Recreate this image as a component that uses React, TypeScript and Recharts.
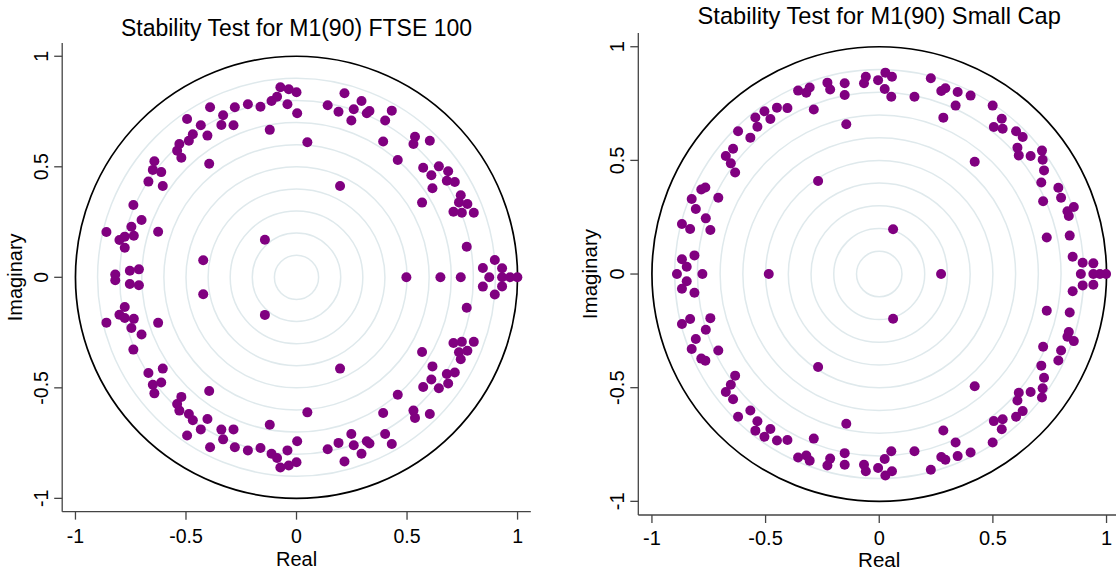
import { ReferenceDot, Scatter, ScatterChart, XAxis, YAxis } from 'recharts'

type Root = [number, number]

// FTSE 100: roots above the real axis
const ftseUpper: Root[] = [
  [-0.073, 0.86], [-0.035, 0.851], [0.0, 0.837], [-0.088, 0.817], [-0.113, 0.798],
  [-0.041, 0.783], [0.003, 0.742], [-0.121, 0.667], [-0.163, 0.772], [-0.22, 0.783],
  [-0.279, 0.769], [-0.391, 0.769], [-0.332, 0.733], [-0.34, 0.689], [-0.285, 0.688],
  [-0.495, 0.716], [-0.433, 0.688], [-0.469, 0.647], [-0.403, 0.641], [-0.487, 0.618],
  [-0.53, 0.603], [-0.54, 0.573], [-0.521, 0.541], [-0.395, 0.514], [-0.643, 0.525],
  [-0.65, 0.486], [-0.612, 0.476], [-0.67, 0.433], [-0.605, 0.413], [-0.738, 0.327],
  [-0.701, 0.259], [-0.747, 0.229], [-0.86, 0.205], [-0.626, 0.206], [-0.777, 0.184],
  [-0.736, 0.188], [-0.801, 0.169], [-0.777, 0.134], [-0.143, 0.17], [-0.422, 0.077],
  [-0.754, 0.03], [-0.713, 0.036], [-0.82, 0.013],
  [0.217, 0.833], [0.141, 0.778], [0.19, 0.749], [0.294, 0.798], [0.259, 0.76],
  [0.248, 0.709], [0.33, 0.752], [0.318, 0.742], [0.431, 0.754], [0.401, 0.709],
  [0.049, 0.611], [0.392, 0.614], [0.536, 0.636], [0.529, 0.603], [0.603, 0.618],
  [0.458, 0.531], [0.573, 0.496], [0.644, 0.502], [0.61, 0.462], [0.686, 0.48],
  [0.68, 0.437], [0.716, 0.431], [0.615, 0.403], [0.197, 0.413], [0.568, 0.338],
  [0.743, 0.371], [0.735, 0.339], [0.773, 0.332], [0.71, 0.297], [0.748, 0.292],
  [0.802, 0.292], [0.77, 0.138], [0.897, 0.078], [0.843, 0.042], [0.93, 0.041],
]

// FTSE 100: conjugates below the real axis
const ftseLower: Root[] = [
  [-0.073, -0.86], [-0.035, -0.851], [0.0, -0.837], [-0.088, -0.817], [-0.113, -0.798],
  [-0.041, -0.783], [0.003, -0.742], [-0.121, -0.667], [-0.163, -0.772], [-0.22, -0.783],
  [-0.279, -0.769], [-0.391, -0.769], [-0.332, -0.733], [-0.34, -0.689], [-0.285, -0.688],
  [-0.495, -0.716], [-0.433, -0.688], [-0.469, -0.647], [-0.403, -0.641], [-0.487, -0.618],
  [-0.53, -0.603], [-0.54, -0.573], [-0.521, -0.541], [-0.395, -0.514], [-0.643, -0.525],
  [-0.65, -0.486], [-0.612, -0.476], [-0.67, -0.433], [-0.605, -0.413], [-0.738, -0.327],
  [-0.701, -0.259], [-0.747, -0.229], [-0.86, -0.205], [-0.626, -0.206], [-0.777, -0.184],
  [-0.736, -0.188], [-0.801, -0.169], [-0.777, -0.134], [-0.143, -0.17], [-0.422, -0.077],
  [-0.754, -0.03], [-0.713, -0.036], [-0.82, -0.013],
  [0.217, -0.833], [0.141, -0.778], [0.19, -0.749], [0.294, -0.798], [0.259, -0.76],
  [0.248, -0.709], [0.33, -0.752], [0.318, -0.742], [0.431, -0.754], [0.401, -0.709],
  [0.049, -0.611], [0.392, -0.614], [0.536, -0.636], [0.529, -0.603], [0.603, -0.618],
  [0.458, -0.531], [0.573, -0.496], [0.644, -0.502], [0.61, -0.462], [0.686, -0.48],
  [0.68, -0.437], [0.716, -0.431], [0.615, -0.403], [0.197, -0.413], [0.568, -0.338],
  [0.743, -0.371], [0.735, -0.339], [0.773, -0.332], [0.71, -0.297], [0.748, -0.292],
  [0.802, -0.292], [0.77, -0.138], [0.897, -0.078], [0.843, -0.042], [0.93, -0.041],
]

const ftseRealAxis: Root[] = [
  [0.497, 0], [0.651, 0], [0.743, 0], [0.872, 0], [0.93, 0], [0.966, 0], [0.999, 0],
]

// Small Cap: roots above the real axis
const smallCapUpper: Root[] = [
  [-0.059, 0.868], [-0.067, 0.839], [-0.005, 0.853], [-0.152, 0.839], [-0.152, 0.788],
  [-0.228, 0.842], [-0.216, 0.812], [-0.306, 0.821], [-0.357, 0.807], [-0.321, 0.798],
  [-0.288, 0.724], [-0.404, 0.73], [-0.45, 0.732], [-0.505, 0.716], [-0.479, 0.682],
  [-0.545, 0.689], [-0.536, 0.648], [-0.621, 0.628], [-0.567, 0.6], [-0.145, 0.659],
  [-0.643, 0.551], [-0.675, 0.519], [-0.653, 0.487], [-0.634, 0.447], [-0.269, 0.409],
  [-0.783, 0.372], [-0.765, 0.381], [-0.825, 0.33], [-0.708, 0.336], [-0.807, 0.286],
  [-0.763, 0.245], [-0.868, 0.22], [-0.832, 0.198], [-0.743, 0.194], [-0.813, 0.082],
  [-0.868, 0.065], [-0.847, 0.032],
  [0.027, 0.886], [0.056, 0.868], [0.024, 0.814], [0.053, 0.78], [0.227, 0.861],
  [0.155, 0.78], [0.273, 0.805], [0.291, 0.817], [0.345, 0.801], [0.402, 0.785],
  [0.336, 0.741], [0.282, 0.688], [0.499, 0.741], [0.539, 0.683], [0.504, 0.647],
  [0.543, 0.639], [0.602, 0.628], [0.631, 0.603], [0.608, 0.556], [0.614, 0.522],
  [0.666, 0.519], [0.716, 0.543], [0.719, 0.503], [0.725, 0.456], [0.42, 0.494],
  [0.713, 0.403], [0.721, 0.32], [0.788, 0.38], [0.8, 0.336], [0.856, 0.295],
  [0.828, 0.276], [0.834, 0.255], [0.838, 0.169], [0.737, 0.161], [0.061, 0.197],
  [0.851, 0.076], [0.895, 0.05], [0.942, 0.047],
]

// Small Cap: conjugates below the real axis
const smallCapLower: Root[] = [
  [-0.059, -0.868], [-0.067, -0.839], [-0.005, -0.853], [-0.152, -0.839], [-0.152, -0.788],
  [-0.228, -0.842], [-0.216, -0.812], [-0.306, -0.821], [-0.357, -0.807], [-0.321, -0.798],
  [-0.288, -0.724], [-0.404, -0.73], [-0.45, -0.732], [-0.505, -0.716], [-0.479, -0.682],
  [-0.545, -0.689], [-0.536, -0.648], [-0.621, -0.628], [-0.567, -0.6], [-0.145, -0.659],
  [-0.643, -0.551], [-0.675, -0.519], [-0.653, -0.487], [-0.634, -0.447], [-0.269, -0.409],
  [-0.783, -0.372], [-0.765, -0.381], [-0.825, -0.33], [-0.708, -0.336], [-0.807, -0.286],
  [-0.763, -0.245], [-0.868, -0.22], [-0.832, -0.198], [-0.743, -0.194], [-0.813, -0.082],
  [-0.868, -0.065], [-0.847, -0.032],
  [0.027, -0.886], [0.056, -0.868], [0.024, -0.814], [0.053, -0.78], [0.227, -0.861],
  [0.155, -0.78], [0.273, -0.805], [0.291, -0.817], [0.345, -0.801], [0.402, -0.785],
  [0.336, -0.741], [0.282, -0.688], [0.499, -0.741], [0.539, -0.683], [0.504, -0.647],
  [0.543, -0.639], [0.602, -0.628], [0.631, -0.603], [0.608, -0.556], [0.614, -0.522],
  [0.666, -0.519], [0.716, -0.543], [0.719, -0.503], [0.725, -0.456], [0.42, -0.494],
  [0.713, -0.403], [0.721, -0.32], [0.788, -0.38], [0.8, -0.336], [0.856, -0.295],
  [0.828, -0.276], [0.834, -0.255], [0.838, -0.169], [0.737, -0.161], [0.061, -0.197],
  [0.851, -0.076], [0.895, -0.05], [0.942, -0.047],
]

const smallCapRealAxis: Root[] = [
  [-0.89, 0], [-0.778, 0], [-0.486, 0], [0.272, 0], [0.887, 0], [0.942, 0], [0.971, 0], [0.998, 0],
]

const axisTicks = [-1, -0.5, 0, 0.5, 1]
const gridRadii = [0.1, 0.2, 0.3, 0.4, 0.5, 0.6, 0.7, 0.8, 0.9]

const FONT = 'Arial, "Liberation Sans", Helvetica, sans-serif'
const DOT_COLOR = '#800080'
const GRID_COLOR = '#dfe9ec'
const AXIS_COLOR = '#444'
const SPAN = 1.06
const CHART_HEIGHT = 571

interface PanelProps {
  title: string
  roots: Root[]
  left: number
  width: number
  yAxisWidth: number
  plotTop: number
  unitPx: number
  fontScale: number
  titleBaseline: number
  tickOffset: number
  labelOffset: number
}

function toPoints(roots: Root[]) {
  return roots.map(([re, im]) => ({ re, im }))
}

function Panel({
  title,
  roots,
  left,
  width,
  yAxisWidth,
  plotTop,
  unitPx,
  fontScale,
  titleBaseline,
  tickOffset,
  labelOffset,
}: PanelProps) {
  const plotSize = 2 * SPAN * unitPx
  const xAxisHeight = CHART_HEIGHT - plotTop - plotSize
  const rightMargin = width - yAxisWidth - plotSize
  const tickFont = 19.5 * fontScale
  const labelFont = 20 * fontScale
  const titleFont = 23 * fontScale
  const data = toPoints(roots)

  return (
    <div style={{ position: 'absolute', left, top: 0, width, height: CHART_HEIGHT }}>
      <div
        style={{
          position: 'absolute',
          left: yAxisWidth,
          width: plotSize,
          top: titleBaseline - 0.8465 * titleFont,
          fontFamily: FONT,
          fontSize: titleFont,
          lineHeight: `${titleFont}px`,
          textAlign: 'center',
          whiteSpace: 'nowrap',
          color: '#000',
        }}
      >
        {title}
      </div>
      <ScatterChart
        width={width}
        height={CHART_HEIGHT}
        margin={{ top: plotTop, right: rightMargin, bottom: 0, left: 0 }}
      >
        <XAxis
          type="number"
          dataKey="re"
          domain={[-SPAN, SPAN]}
          ticks={axisTicks}
          interval={0}
          allowDataOverflow
          height={xAxisHeight}
          tickSize={8}
          tickMargin={0}
          stroke={AXIS_COLOR}
          axisLine={{ stroke: AXIS_COLOR, strokeWidth: 1.3 }}
          tickLine={{ stroke: AXIS_COLOR, strokeWidth: 1.3 }}
          tick={(props: any) => (
            <text
              x={props.x}
              y={props.y + tickOffset}
              textAnchor="middle"
              fontFamily={FONT}
              fontSize={tickFont}
              fill="#000"
            >
              {props.payload.value}
            </text>
          )}
          label={{
            content: (props: any) => {
              const vb = props.viewBox
              return (
                <text
                  x={vb.x + vb.width / 2}
                  y={vb.y + labelOffset}
                  textAnchor="middle"
                  fontFamily={FONT}
                  fontSize={labelFont}
                  fill="#000"
                >
                  Real
                </text>
              )
            },
          }}
        />
        <YAxis
          type="number"
          dataKey="im"
          domain={[-SPAN, SPAN]}
          ticks={axisTicks}
          interval={0}
          allowDataOverflow
          width={yAxisWidth}
          tickSize={8}
          tickMargin={0}
          stroke={AXIS_COLOR}
          axisLine={{ stroke: AXIS_COLOR, strokeWidth: 1.3 }}
          tickLine={{ stroke: AXIS_COLOR, strokeWidth: 1.3 }}
          tick={(props: any) => {
            const bx = props.x - 6 * fontScale
            return (
              <text
                x={bx}
                y={props.y}
                transform={`rotate(-90 ${bx} ${props.y})`}
                textAnchor="middle"
                fontFamily={FONT}
                fontSize={tickFont}
                fill="#000"
              >
                {props.payload.value}
              </text>
            )
          }}
          label={{
            content: (props: any) => {
              const vb = props.viewBox
              const bx = vb.x + vb.width - 40 * fontScale
              const cy = vb.y + vb.height / 2
              return (
                <text
                  x={bx}
                  y={cy}
                  transform={`rotate(-90 ${bx} ${cy})`}
                  textAnchor="middle"
                  fontFamily={FONT}
                  fontSize={labelFont}
                  fill="#000"
                >
                  Imaginary
                </text>
              )
            },
          }}
        />
        {gridRadii.map((radius) => (
          <ReferenceDot
            key={radius}
            x={0}
            y={0}
            r={radius * unitPx}
            fill="none"
            stroke={GRID_COLOR}
            strokeWidth={1.5}
          />
        ))}
        <ReferenceDot x={0} y={0} r={unitPx} fill="none" stroke="#000" strokeWidth={1.7} />
        <Scatter
          data={data}
          isAnimationActive={false}
          shape={(props: any) => <circle cx={props.cx} cy={props.cy} r={5} fill={DOT_COLOR} />}
        />
      </ScatterChart>
    </div>
  )
}

export default function App() {
  return (
    <div
      style={{
        position: 'absolute',
        left: 0,
        top: 0,
        width: 1116,
        height: 571,
        overflow: 'hidden',
        background: '#fff',
      }}
    >
      <Panel
        title="Stability Test for M1(90) FTSE 100"
        roots={[...ftseUpper, ...ftseRealAxis, ...ftseLower]}
        left={0}
        width={556}
        yAxisWidth={62.2}
        plotTop={43}
        unitPx={221.05}
        fontScale={1}
        titleBaseline={36}
        tickOffset={23.3}
        labelOffset={54}
      />
      <Panel
        title="Stability Test for M1(90) Small Cap"
        roots={[...smallCapUpper, ...smallCapRealAxis, ...smallCapLower]}
        left={556}
        width={580}
        yAxisWidth={82.3}
        plotTop={33.1}
        unitPx={227.3}
        fontScale={1.028}
        titleBaseline={25}
        tickOffset={21.8}
        labelOffset={52.5}
      />
    </div>
  )
}
